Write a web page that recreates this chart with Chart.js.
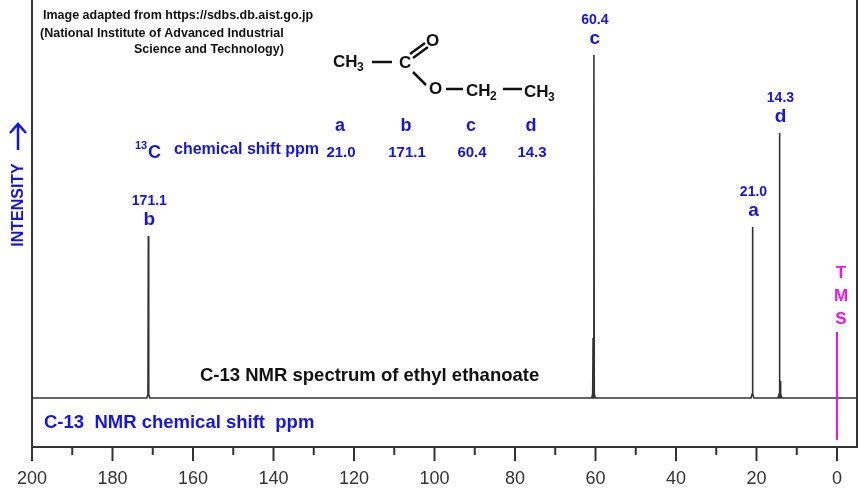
<!DOCTYPE html>
<html><head><meta charset="utf-8">
<script src="https://cdn.jsdelivr.net/npm/chart.js"></script>
<style>html,body{margin:0;padding:0;background:#fff}#w{width:860px;height:492px}</style>
</head><body><div id="w"><canvas id="c"></canvas></div>
<script>
const peakShifts = [171.1, 60.4, 21.0, 14.3];
const peakHeights = [162, 343, 171, 265];
const shoulderShifts = [60.6, 14.05];
const shoulderHeights = [60, 17];
const peakLabels = ['b', 'c', 'a', 'd'];
const tickValues = [200,190,180,170,160,150,140,130,120,110,100,90,80,70,60,50,40,30,20,10,0];

const pts = [{x:200,y:0}];
const all = peakShifts.map((p,i)=>({p,h:peakHeights[i]})).concat(shoulderShifts.map((p,i)=>({p,h:shoulderHeights[i]})));
all.sort((a,b)=>b.p-a.p);
all.forEach(o=>{pts.push({x:o.p+0.35,y:0},{x:o.p+0.1,y:4},{x:o.p,y:o.h},{x:o.p-0.1,y:4},{x:o.p-0.35,y:0});});
pts.push({x:-4.97,y:0});

const BLUE='#1414e6', MAG='#f013f0';
const deco = {
  id:'deco',
  afterDraw(ch){
    const c=ch.ctx, xs=ch.scales.x, ys=ch.scales.y;
    const by=ys.getPixelForValue(-49);
    c.save();
    c.strokeStyle='#333'; c.lineWidth=2;
    c.beginPath(); c.moveTo(32,0); c.lineTo(32,by); c.lineTo(857,by); c.lineTo(857,0); c.stroke();
    c.fillStyle='#333'; c.font='18px "Liberation Sans"'; c.textAlign='center'; c.textBaseline='middle';
    tickValues.forEach(v=>{const x=xs.getPixelForValue(v);c.beginPath();c.moveTo(x,by);c.lineTo(x,by+(v%20===0?14:8));c.stroke();
      if(v%20===0) c.fillText(String(v),x,479);});
    const x0=xs.getPixelForValue(0);
    c.strokeStyle=MAG; c.beginPath(); c.moveTo(x0,ys.getPixelForValue(66)); c.lineTo(x0,ys.getPixelForValue(-42)); c.stroke();
    c.fillStyle=MAG; c.font='bold 17px "Liberation Sans"';
    ['T','M','S'].forEach((t,i)=>c.fillText(t,x0+4,273+i*23));
    c.fillStyle=BLUE;
    peakShifts.forEach((p,i)=>{
      const x=xs.getPixelForValue(p), top=ys.getPixelForValue(peakHeights[i]);
      c.font='bold 14px "Liberation Sans"'; c.fillText(p.toFixed(1),x+1,top-35);
      c.font='bold 19px "Liberation Sans"'; c.fillText(peakLabels[i],x+1,top-16);
    });
    const tx=[340,406,471,531], tl=['a','b','c','d'], tv=['21.0','171.1','60.4','14.3'];
    tl.forEach((t,i)=>{c.font='bold 18px "Liberation Sans"';c.fillText(t,tx[i],126);c.font='bold 15px "Liberation Sans"';c.fillText(tv[i],tx[i]+1,153);});
    c.textAlign='left';
    c.font='bold 11px "Liberation Sans"'; c.fillText('13',135,146);
    c.font='bold 18px "Liberation Sans"'; c.fillText('C',148,153);
    c.font='bold 16px "Liberation Sans"'; c.fillText('chemical shift ppm',174,150);
    c.font='bold 18.5px "Liberation Sans"'; c.fillText('C-13  NMR chemical shift  ppm',44,423);
    c.save(); c.translate(19,205); c.rotate(-Math.PI/2);
    c.font='bold 16px "Liberation Sans"'; c.textAlign='center'; c.fillText('INTENSITY',0,0);
    c.restore();
    c.strokeStyle=BLUE; c.lineWidth=2.5;
    c.beginPath(); c.moveTo(18,150); c.lineTo(18,125); c.moveTo(10,133); c.lineTo(18,124); c.lineTo(26,133); c.stroke();
    c.fillStyle='#111'; c.font='bold 12.5px "Liberation Sans"';
    c.fillText('Image adapted from https://sdbs.db.aist.go.jp',43,16);
    c.fillText('(National Institute of Advanced Industrial',40,34);
    c.fillText('Science and Technology)',134,50);
    c.font='bold 18.5px "Liberation Sans"';
    c.fillText('C-13 NMR spectrum of ethyl ethanoate',200,376);
    c.font='bold 17px "Liberation Sans"';
    c.fillText('CH',333,62); c.fillText('C',399,63); c.fillText('O',426,41); c.fillText('O',429,89);
    c.fillText('CH',466,91); c.fillText('CH',524,92);
    c.font='bold 12px "Liberation Sans"'; c.fillText('3',357,68); c.fillText('2',490,97); c.fillText('3',548,98);
    c.strokeStyle='#111'; c.lineWidth=2.5; c.beginPath();
    c.moveTo(372,62); c.lineTo(392,62);
    c.moveTo(410,54); c.lineTo(425,43); c.moveTo(413,58); c.lineTo(428,47);
    c.moveTo(413,72); c.lineTo(426,85);
    c.moveTo(446,89); c.lineTo(463,89);
    c.moveTo(503,89); c.lineTo(522,89);
    c.stroke();
    c.restore();
  }
};

new Chart(document.getElementById('c'),{
  type:'line',
  data:{datasets:[{data:pts,borderColor:'#333',borderWidth:1.6,pointRadius:0,tension:0,clip:false}]},
  options:{
    responsive:true,maintainAspectRatio:false,animation:false,
    layout:{padding:{left:32,right:23,top:0,bottom:0}},
    plugins:{legend:{display:false},tooltip:{enabled:false}},
    scales:{
      x:{type:'linear',min:0,max:200,reverse:true,
        afterFit(s){s.height=45;},
        grid:{display:false,drawTicks:false},border:{display:false},
        ticks:{display:false}},
      y:{type:'linear',min:-49,max:398,display:false}
    }
  },
  plugins:[deco]
});
</script></body></html>
